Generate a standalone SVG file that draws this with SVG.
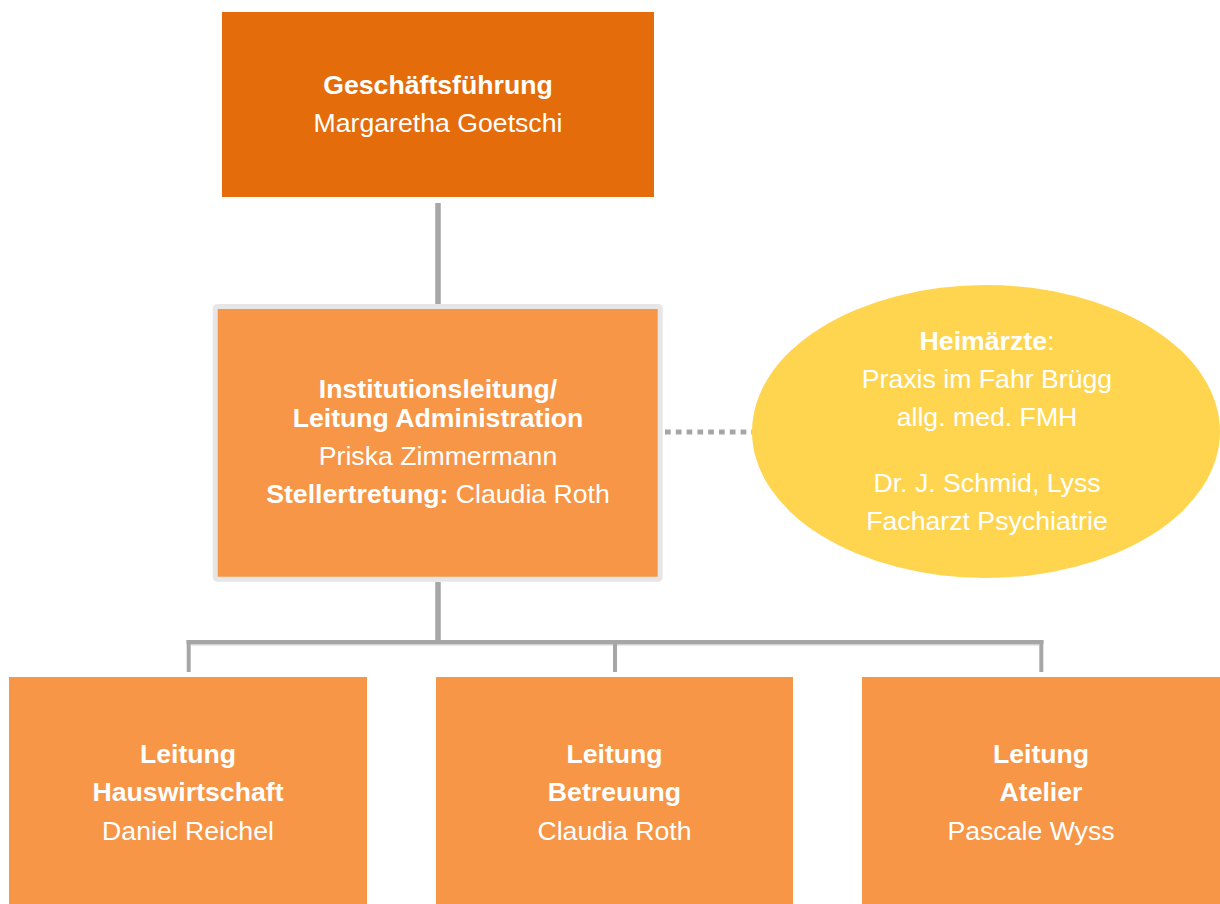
<svg xmlns="http://www.w3.org/2000/svg" width="1220" height="904" viewBox="0 0 1220 904">
<style>
text{font-family:"Liberation Sans",Arial,sans-serif;font-size:26.67px;fill:#FFFFFF;text-anchor:middle}
.b{font-weight:bold}
.ln{stroke:#A6A6A6;fill:none}
</style>
<rect width="1220" height="904" fill="#FFFFFF"/>
<g id="connectors">
<line class="ln" x1="438" y1="203" x2="438" y2="304" stroke-width="5.5"/>
<line class="ln" x1="438" y1="582" x2="438" y2="642" stroke-width="5.5"/>
<line class="ln" x1="186.5" y1="642" x2="1043.5" y2="642" stroke-width="4"/>
<line x1="190.5" y1="644.8" x2="1039" y2="644.8" stroke="#D2D2D2" stroke-width="1.6"/>
<line class="ln" x1="188.7" y1="640" x2="188.7" y2="672" stroke-width="4"/>
<line class="ln" x1="615" y1="640" x2="615" y2="672" stroke-width="4"/>
<line class="ln" x1="1041.3" y1="640" x2="1041.3" y2="672" stroke-width="4"/>
<line class="ln" x1="665" y1="432" x2="760" y2="432" stroke-width="5" stroke-dasharray="5.7 5.1"/>
</g>
<g id="geschaeftsfuehrung">
<rect x="222" y="12" width="432" height="185" fill="#E46C0A"/>
<text x="438" y="94" class="b">Geschäftsführung</text>
<text x="438" y="132">Margaretha Goetschi</text>
</g>
<g id="institutionsleitung">
<rect x="215.2" y="306.5" width="445" height="272.7" rx="2" fill="#F79646" stroke="#E6E6E6" stroke-width="5"/>
<text x="438" y="398" class="b">Institutionsleitung/</text>
<text x="438" y="427" class="b">Leitung Administration</text>
<text x="438" y="465">Priska Zimmermann</text>
<text x="438" y="503"><tspan class="b">Stellertretung:</tspan> Claudia Roth</text>
</g>
<g id="heimaerzte">
<ellipse cx="986" cy="431.5" rx="234" ry="146.5" fill="#FFD54F"/>
<text x="987" y="350"><tspan class="b">Heimärzte</tspan>:</text>
<text x="987" y="388">Praxis im Fahr Brügg</text>
<text x="987" y="426">allg. med. FMH</text>
<text x="987" y="492">Dr. J. Schmid, Lyss</text>
<text x="987" y="530">Facharzt Psychiatrie</text>
</g>
<g id="hauswirtschaft">
<rect x="9" y="677" width="358" height="227" fill="#F79646"/>
<text x="188" y="763" class="b">Leitung</text>
<text x="188" y="801" class="b">Hauswirtschaft</text>
<text x="188" y="840">Daniel Reichel</text>
</g>
<g id="betreuung">
<rect x="436" y="677" width="357" height="227" fill="#F79646"/>
<text x="614.5" y="763" class="b">Leitung</text>
<text x="614.5" y="801" class="b">Betreuung</text>
<text x="614.5" y="840">Claudia Roth</text>
</g>
<g id="atelier">
<rect x="862" y="677" width="358" height="227" fill="#F79646"/>
<text x="1041" y="763" class="b">Leitung</text>
<text x="1041" y="801" class="b">Atelier</text>
<text x="1031" y="840">Pascale Wyss</text>
</g>
</svg>
